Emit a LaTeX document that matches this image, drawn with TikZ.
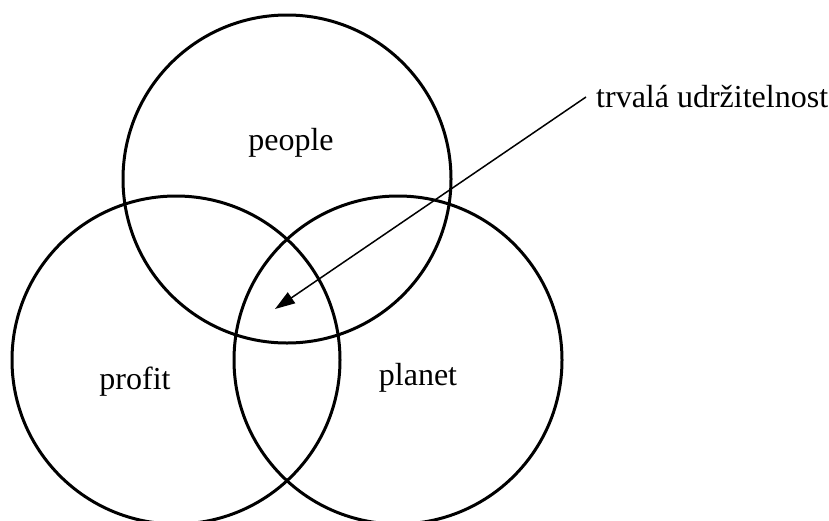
\documentclass[tikz,border=0pt]{standalone}
\usepackage{fontspec}
\setmainfont{Liberation Serif}
\usetikzlibrary{arrows.meta}
\begin{document}
\begin{tikzpicture}[x=1pt,y=-1pt,
  setcircle/.style={circle,draw,line width=3pt,minimum size=328pt,inner sep=0pt},
  lbl/.style={font=\fontsize{32}{38}\selectfont,inner sep=0pt}]
\useasboundingbox (0,0) rectangle (829,520);
\clip (0,0) rectangle (829,520);
\node[setcircle] (people) at (287,179) {};
\node[setcircle] (profit) at (176,360) {};
\node[setcircle] (planet) at (398,360) {};
\node[lbl] (tpeople) at (291,143) {people};
\node[lbl] (tprofit) at (135,382) {profit};
\node[lbl] (tplanet) at (418,378) {planet};
\node[lbl,anchor=west] (tsust) at (596,97) {trvalá udržitelnost};
\coordinate (tip) at (275,309);
\draw[line width=1.5pt,-{Triangle[length=20pt,width=13pt]}] ([xshift=-10pt]tsust.west) -- (tip);
\end{tikzpicture}
\end{document}
